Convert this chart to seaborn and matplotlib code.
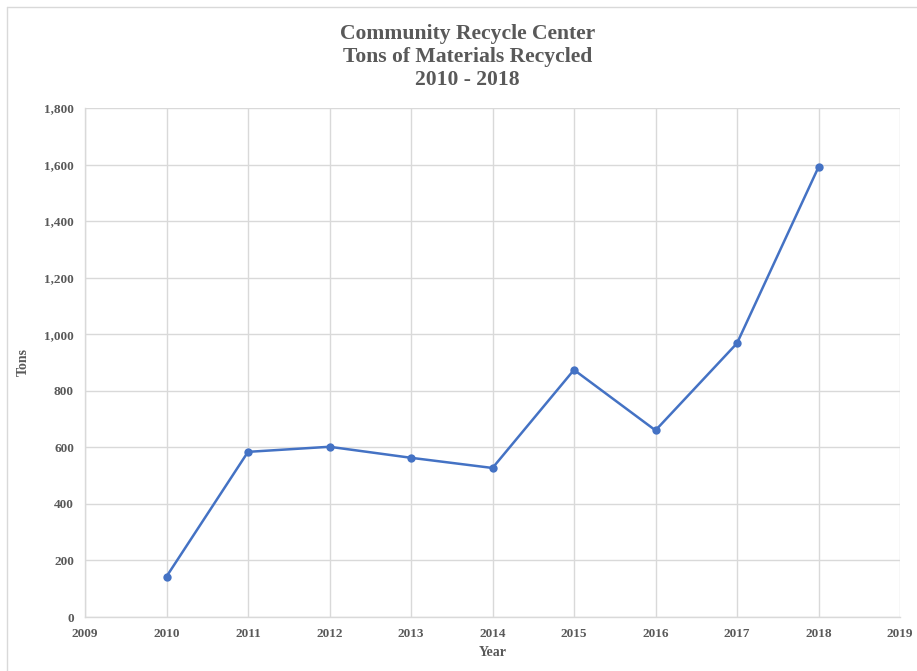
import matplotlib
matplotlib.use("Agg")
import matplotlib.pyplot as plt
import matplotlib.ticker as mticker
from matplotlib.lines import Line2D
import seaborn as sns
import pandas as pd

years = [2010, 2011, 2012, 2013, 2014, 2015, 2016, 2017, 2018]
tons = [143, 584, 602, 563, 527, 874, 660, 968, 1591]

df = pd.DataFrame({"Year": years, "Tons": tons})

sns.set_theme(style="whitegrid")
plt.rcParams["font.family"] = ["Liberation Serif", "DejaVu Serif"]

fig = plt.figure(figsize=(9.17, 6.71), dpi=100)
ax = fig.add_axes([85 / 917, 1 - 617 / 671, (900 - 85) / 917, (617 - 108) / 671])

sns.lineplot(data=df, x="Year", y="Tons", ax=ax, color="#4472C4", linewidth=1.8,
             marker="o", markersize=6, markeredgewidth=0)

ax.set_xlim(2009, 2019)
ax.set_ylim(0, 1800)
ax.xaxis.set_major_locator(mticker.MultipleLocator(1))
ax.yaxis.set_major_locator(mticker.MultipleLocator(200))
ax.yaxis.set_major_formatter(mticker.FuncFormatter(lambda v, p: f"{int(v):,}"))
ax.grid(True, color="#d9d9d9", linewidth=1)
for s in ["top", "right"]:
    ax.spines[s].set_visible(False)
for s in ["left", "bottom"]:
    ax.spines[s].set_color("#d9d9d9")
    ax.spines[s].set_linewidth(1)
ax.tick_params(axis="both", length=0, labelsize=9.5, colors="#595959", pad=8)
for lab in ax.get_xticklabels() + ax.get_yticklabels():
    lab.set_fontweight("bold")
ax.set_xlabel("Year", fontsize=10, fontweight="bold", color="#595959", labelpad=4)
ax.set_ylabel("Tons", fontsize=10, fontweight="bold", color="#595959", labelpad=10)

fig.text(467.5 / 917, 1 - 57 / 671,
         "Community Recycle Center\nTons of Materials Recycled\n2010 - 2018",
         ha="center", va="center", fontsize=15.6, fontweight="bold", color="#595959",
         linespacing=1.18)

# outer chart border (top and left edges visible in the reference)
fig.add_artist(Line2D([7 / 917, 1.0], [1 - 7 / 671, 1 - 7 / 671],
                      transform=fig.transFigure, color="#d9d9d9", linewidth=1))
fig.add_artist(Line2D([7 / 917, 7 / 917], [0.0, 1 - 7 / 671],
                      transform=fig.transFigure, color="#d9d9d9", linewidth=1))

fig.savefig("out.png", dpi=100, facecolor="white")
